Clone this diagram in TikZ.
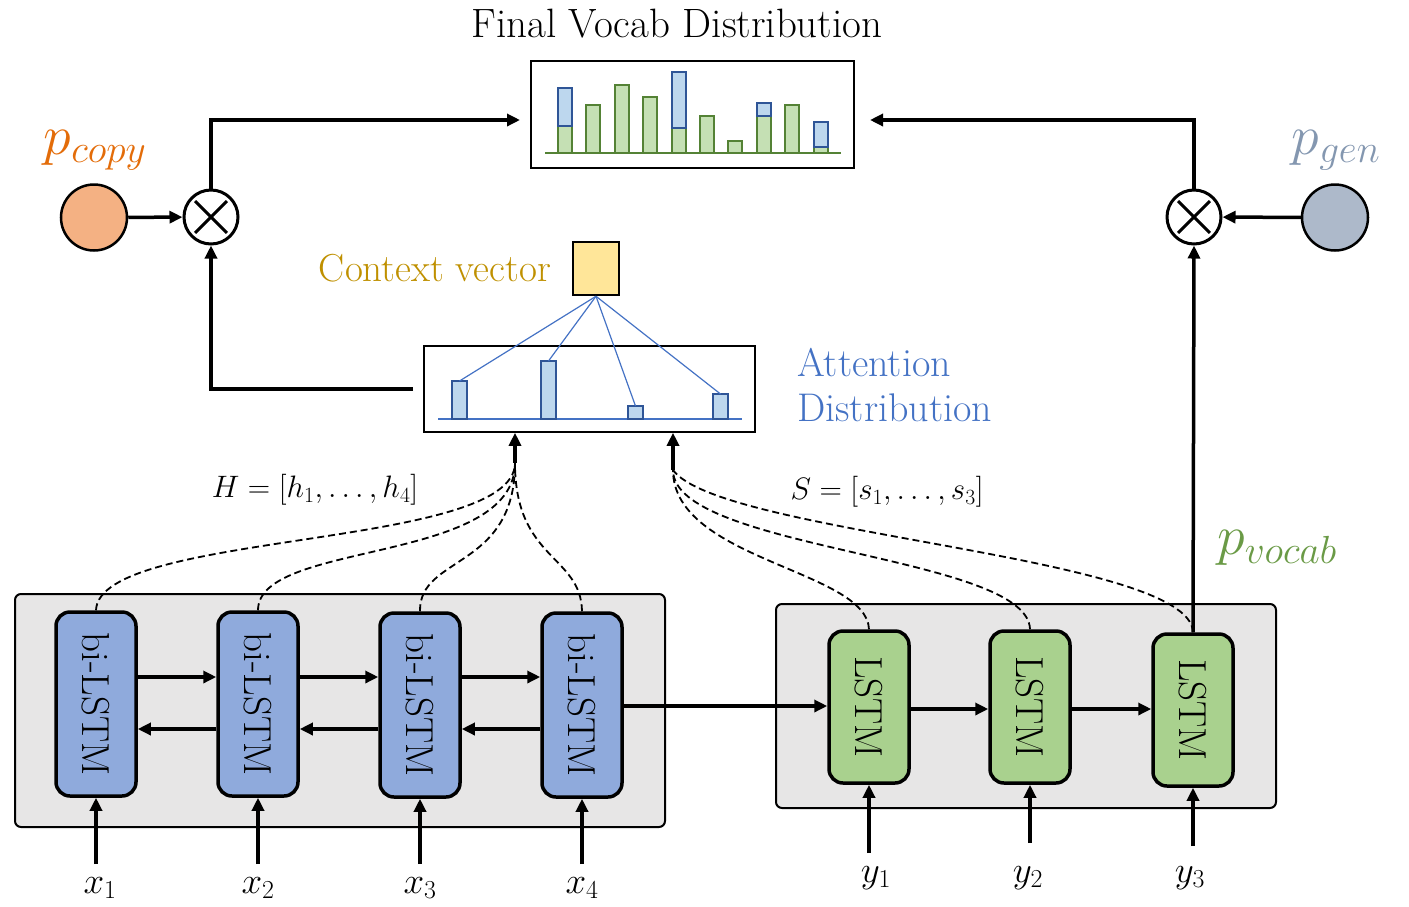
\RequirePackage{fix-cm}
\documentclass[tikz,border=0pt]{standalone}
\usepackage{fontspec}
\usetikzlibrary{arrows.meta}

\definecolor{encfill}{HTML}{8FAADC}
\definecolor{decfill}{HTML}{A9D18E}
\definecolor{panelfill}{HTML}{E7E6E6}
\definecolor{vgreen}{HTML}{C5E0B4}
\definecolor{vgreenline}{HTML}{548235}
\definecolor{vblue}{HTML}{BDD7EE}
\definecolor{vblueline}{HTML}{2F5597}
\definecolor{attline}{HTML}{4472C4}
\definecolor{cvtext}{HTML}{BF9000}
\definecolor{cvfill}{HTML}{FFE699}
\definecolor{pcopycol}{HTML}{E36C09}
\definecolor{pcopyfill}{HTML}{F4B183}
\definecolor{pgencol}{HTML}{8497B0}
\definecolor{pgenfill}{HTML}{ADB9CA}
\definecolor{pvocabcol}{HTML}{6A9A46}

\tikzset{
  arr/.style={line width=3.5pt, -{Triangle[length=13pt,width=12pt]}},
  dashlink/.style={line width=1.8pt, dash pattern=on 7pt off 4pt},
  panel/.style={draw, line width=2pt, fill=panelfill, rounded corners=6pt},
  enc/.style={draw, line width=3.5pt, fill=encfill, rounded corners=14pt,
    minimum width=80pt, minimum height=184pt, inner sep=0pt},
  dec/.style={draw, line width=3.5pt, fill=decfill, rounded corners=14pt,
    minimum width=80pt, minimum height=152pt, inner sep=0pt},
  cell/.style={rotate=-90, font=\fontsize{39}{42}\selectfont},
  mult/.style={circle, draw, line width=3pt, minimum size=54pt, inner sep=0pt},
  gate/.style={circle, draw, line width=2.5pt, minimum size=66pt, inner sep=0pt},
  cross/.style={line width=3pt, shorten <=6pt, shorten >=6pt},
  lbl/.style={inner sep=0pt},
  idx/.style={inner sep=0pt, font=\fontsize{37}{40}\selectfont},
}

\begin{document}
\begin{tikzpicture}[x=1pt,y=-1pt]
\useasboundingbox (0,0) rectangle (1409,906);

% ---------- panels ----------
\node[panel, minimum width=650pt, minimum height=233pt] (encpanel) at (340,710.5) {};
\node[panel, minimum width=500pt, minimum height=204pt] (decpanel) at (1026,706) {};

% ---------- encoder cells ----------
\node[enc] (e1) at (96,704) {}; \node[cell] at (e1) {bi-LSTM};
\node[enc] (e2) at (258,704) {}; \node[cell] at (e2) {bi-LSTM};
\node[enc] (e3) at (420,705) {}; \node[cell] at (e3) {bi-LSTM};
\node[enc] (e4) at (582,705) {}; \node[cell] at (e4) {bi-LSTM};

% ---------- decoder cells ----------
\node[dec] (d1) at (869,707) {}; \node[cell] at (d1) {LSTM};
\node[dec] (d2) at (1030,707) {}; \node[cell] at (d2) {LSTM};
\node[dec] (d3) at (1193,710) {}; \node[cell] at (d3) {LSTM};

% encoder recurrences
\foreach \a/\b in {e1/e2, e2/e3, e3/e4} {
  \draw[arr] (\a.east |- 0,677) -- (\b.west |- 0,677);
  \draw[arr] (\b.west |- 0,729) -- (\a.east |- 0,729);
}
% encoder to decoder
\draw[arr] (e4.east |- 0,706) -- (d1.west |- 0,706);
% decoder recurrences
\draw[arr] (d1.east |- 0,709) -- (d2.west |- 0,709);
\draw[arr] (d2.east |- 0,709) -- (d3.west |- 0,709);

% ---------- inputs ----------
\node[idx] (x1) at (100,888) {$x_1$};
\node[idx] (x2) at (258,888) {$x_2$};
\node[idx] (x3) at (420,888) {$x_3$};
\node[idx] (x4) at (582,888) {$x_4$};
\node[idx] (y1) at (876,878) {$y_1$};
\node[idx] (y2) at (1028,878) {$y_2$};
\node[idx] (y3) at (1190,878) {$y_3$};
\foreach \c/\n in {e1/96, e2/258, e3/420, e4/582}
  \draw[arr] (\n,864) -- (\c.south);
\draw[arr] (869,853) -- (d1.south);
\draw[arr] (1030,843) -- (d2.south);
\draw[arr] (1193,846) -- (d3.south);

% ---------- attention distribution ----------
\node[draw, line width=1.6pt, minimum width=331pt, minimum height=86pt, inner sep=0pt] (att) at (589.5,389) {};
\draw[attline, line width=2pt] (438,419) -- (742,419);
\foreach \x/\t [count=\i] in {452/381, 541/361, 628/406, 713/394} {
  \draw[vblueline, fill=vblue, line width=2pt] (\x,419) rectangle (\x+15,\t);
  \coordinate (ab\i) at (\x+7.5,\t);
}
\node[lbl, font=\fontsize{40}{45}\selectfont, text=attline, align=left, anchor=west] (attlbl) at (797,385)
  {Attention\\Distribution};

% context vector
\node[draw, line width=2.5pt, fill=cvfill, minimum width=46pt, minimum height=53pt, inner sep=0pt] (cv) at (596,268.5) {};
\node[lbl, font=\fontsize{39}{44}\selectfont, text=cvtext] (cvlbl) at (435,268) {Context vector};
\foreach \i in {1,...,4}
  \draw[attline, line width=1.2pt] (cv.south) -- (ab\i);

% ---------- final vocab distribution ----------
\node[draw, line width=2pt, minimum width=323pt, minimum height=107pt, inner sep=0pt] (vocab) at (692.5,114.5) {};
\node[lbl, font=\fontsize{41}{46}\selectfont] (title) at (677,24) {Final Vocab Distribution};
\foreach \x/\g/\b in {558/126/88, 586/105/0, 615/85/0, 643/97/0, 672/128/72,
                      700/116/0, 728/141/0, 757/116/103, 785/105/0, 814/147/122} {
  \draw[vgreenline, fill=vgreen, line width=2pt] (\x,153) rectangle (\x+14,\g);
  \ifnum\b>0
    \draw[vblueline, fill=vblue, line width=2pt] (\x,\g) rectangle (\x+14,\b);
  \fi
}
\draw[vgreenline, line width=2pt] (545,153) -- (841,153);

% ---------- switches ----------
\node[gate, fill=pcopyfill] (pc) at (94,217.5) {};
\node[gate, fill=pgenfill] (pg) at (1335,217.5) {};
\node[mult] (ml) at (211,217) {};
\node[mult] (mr) at (1194,217) {};
\draw[cross] (ml.45) -- (ml.225);
\draw[cross] (ml.135) -- (ml.315);
\draw[cross] (mr.45) -- (mr.225);
\draw[cross] (mr.135) -- (mr.315);

\node[lbl, font=\fontsize{56}{60}\selectfont, text=pcopycol] (pclbl) at (95,150) {$p_{copy}$};
\node[lbl, font=\fontsize{56}{60}\selectfont, text=pgencol] (pglbl) at (1336,150) {$p_{gen}$};
\node[lbl, font=\fontsize{56}{60}\selectfont, text=pvocabcol] (pvlbl) at (1277,548) {$p_{vocab}$};

\coordinate (vinL) at (520,120);
\coordinate (vinR) at (870,120);
\draw[arr] (pc) -- (ml);
\draw[arr] (pg) -- (mr);
\draw[arr] (ml.north) |- (vinL);
\draw[arr] (mr.north) |- (vinR);
\draw[arr] ([xshift=-10pt]att.west) -| (ml.south);
\draw[arr] (d3.north) -- (mr.south);

% ---------- hidden states into attention ----------
\coordinate (hm) at (515,463);
\coordinate (sm) at (673,470);
\draw[dashlink] (e1.north) .. controls (99,530) and (515,550) .. (hm);
\draw[dashlink] (e2.north) .. controls (258,540) and (515,565) .. (hm);
\draw[dashlink] (e3.north) .. controls (419,555) and (515,570) .. (hm);
\draw[dashlink] (e4.north) .. controls (581,555) and (515,560) .. (hm);
\draw[arr] (hm) -- (hm |- att.south);

\draw[dashlink] (d1.north) .. controls (867,570) and (673,560) .. (sm);
\draw[dashlink] (d2.north) .. controls (1028,555) and (673,550) .. (sm);
\draw[dashlink] (d3.north) .. controls (1191,555) and (720,535) .. (sm);
\draw[arr] (sm) -- (sm |- att.south);

\node[lbl, font=\fontsize{31}{36}\selectfont] (hlbl) at (315,490) {$H=[h_1,\ldots,h_4]$};
\node[lbl, font=\fontsize{31}{36}\selectfont] (slbl) at (887,492) {$S=[s_1,\ldots,s_3]$};
\end{tikzpicture}
\end{document}
